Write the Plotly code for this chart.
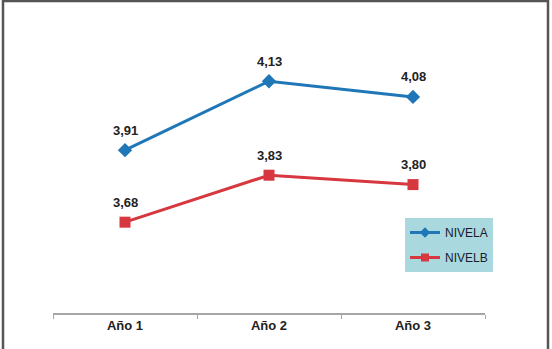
import plotly.graph_objects as go

categories = ["Año 1", "Año 2", "Año 3"]
nivel_a = [3.91, 4.13, 4.08]
nivel_b = [3.68, 3.83, 3.80]

W, H = 552, 349
ML, MR, MT, MB = 53, 67, 28, 36
FONT = "Liberation Sans Narrow, Liberation Sans, Arial"
BLUE, RED = "#1f77b8", "#d7373f"

fig = go.Figure()
fig.add_trace(go.Scatter(
    x=categories, y=nivel_a, name="NIVELA", mode="lines+markers",
    showlegend=False,
    line=dict(color=BLUE, width=3),
    marker=dict(symbol="diamond", size=11, color=BLUE),
))
fig.add_trace(go.Scatter(
    x=categories, y=nivel_b, name="NIVELB", mode="lines+markers",
    showlegend=False,
    line=dict(color=RED, width=3),
    marker=dict(symbol="square", size=11, color=RED),
))
# legend entries with smaller markers
fig.add_trace(go.Scatter(
    x=[None], y=[None], name="NIVELA", mode="lines+markers", legendgroup="a",
    line=dict(color=BLUE, width=3), marker=dict(symbol="diamond", size=8, color=BLUE),
))
fig.add_trace(go.Scatter(
    x=[None], y=[None], name="NIVELB", mode="lines+markers", legendgroup="b",
    line=dict(color=RED, width=3), marker=dict(symbol="square", size=8, color=RED),
))

annotations = []
for series in (nivel_a, nivel_b):
    for c, v in zip(categories, series):
        annotations.append(dict(
            x=c, y=v, xref="x", yref="y", text=f"{v:.2f}".replace(".", ","),
            showarrow=False, yshift=20, yanchor="middle",
            font=dict(family=FONT, size=13, color="#222222", weight="bold"),
        ))

fig.update_layout(
    width=W, height=H,
    margin=dict(l=ML, r=MR, t=MT, b=MB),
    paper_bgcolor="white", plot_bgcolor="white",
    separators=",.",
    showlegend=True,
    annotations=annotations,
    legend=dict(
        x=(405 - ML) / (W - ML - MR), y=(H - MB - 218) / (H - MT - MB),
        xanchor="left", yanchor="top",
        bgcolor="#a9d9de", borderwidth=0,
        font=dict(family=FONT, size=12, color="#1a1a2e"),
        traceorder="grouped", tracegroupgap=6,
    ),
    xaxis=dict(
        type="category", range=[-0.5, 2.5],
        showgrid=False, zeroline=False,
        showline=True, linecolor="#a6a6a6", linewidth=1.5,
        ticks="outside", tickson="boundaries", ticklen=4, tickcolor="#a6a6a6",
        tickfont=dict(family=FONT, size=13, color="#222222", weight="bold"),
    ),
    yaxis=dict(
        range=[3.39, 4.3], visible=False,
    ),
    shapes=[dict(
        type="rect", xref="paper", yref="paper",
        x0=(3 - ML) / (W - ML - MR), x1=(548 - ML) / (W - ML - MR),
        y0=-0.5, y1=(H - MB - 1) / (H - MT - MB),
        line=dict(color="#555555", width=2.5), fillcolor="rgba(0,0,0,0)", layer="above",
    )],
)

fig.write_html("out.html", config={"displayModeBar": False},
               post_script="document.body.style.margin='0';document.body.style.overflow='hidden';")
